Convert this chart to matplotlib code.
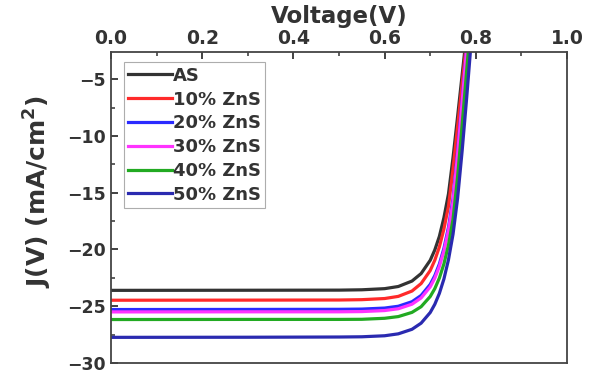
import matplotlib.pyplot as plt
from matplotlib.ticker import MultipleLocator

# J-V curves (V in volts, J in mA/cm^2)
voltage = [0.0, 0.3, 0.5, 0.55, 0.6, 0.63, 0.66, 0.68, 0.70, 0.71,
           0.72, 0.73, 0.74, 0.75, 0.76, 0.77, 0.78, 0.79]

j_as = [-23.60, -23.59, -23.58, -23.55, -23.45, -23.26, -22.78, -22.12, -20.95,
        -20.04, -18.85, -17.20, -15.10, -11.90, -8.30, -4.60, -0.90, 2.80]
j_10 = [-24.47, -24.46, -24.45, -24.42, -24.32, -24.13, -23.66, -23.00, -21.85,
        -20.95, -19.78, -18.20, -16.20, -12.90, -9.20, -5.40, -1.60, 2.20]
j_20 = [-25.29, -25.28, -25.27, -25.25, -25.16, -25.00, -24.60, -24.05, -23.07,
        -22.30, -21.28, -19.90, -18.05, -15.50, -11.30, -6.80, -2.20, 2.30]
j_30 = [-25.50, -25.49, -25.49, -25.47, -25.38, -25.22, -24.82, -24.27, -23.29,
        -22.53, -21.50, -20.14, -18.30, -15.80, -11.60, -7.00, -2.30, 2.20]
j_40 = [-26.17, -26.16, -26.16, -26.15, -26.06, -25.91, -25.54, -25.04, -24.14,
        -23.45, -22.52, -21.27, -19.60, -17.33, -13.60, -9.00, -4.20, 0.60]
j_50 = [-27.74, -27.73, -27.71, -27.69, -27.60, -27.43, -27.03, -26.49, -25.55,
        -24.83, -23.87, -22.60, -20.90, -18.65, -15.50, -11.30, -6.60, -1.60]

labels = ['AS', '10% ZnS', '20% ZnS', '30% ZnS', '40% ZnS', '50% ZnS']
colors = ['#333333', '#ff2a2a', '#2a2aff', '#ff33ff', '#22aa22', '#2a2ab0']
series = [j_as, j_10, j_20, j_30, j_40, j_50]

plt.rcParams['font.family'] = ['DejaVu Sans']
plt.rcParams['font.weight'] = 'bold'
plt.rcParams['mathtext.default'] = 'bf'

fig = plt.figure(figsize=(5.95, 3.74), dpi=100)
ax = fig.add_axes([0.1866, 0.0294, 0.7664, 0.8316])

for j, lab, c in zip(series, labels, colors):
    ax.plot(voltage, j, color=c, lw=2.3, label=lab)

ax.set_xlim(0, 1.0)
ax.set_ylim(-30, -2.6)

ax.xaxis.set_major_locator(MultipleLocator(0.2))
ax.xaxis.set_minor_locator(MultipleLocator(0.1))
ax.yaxis.set_major_locator(MultipleLocator(5))
ax.yaxis.set_minor_locator(MultipleLocator(2.5))
ax.xaxis.set_major_formatter(plt.FuncFormatter(lambda v, p: f'{v:.1f}'))

ax.tick_params(axis='x', which='both', direction='in', top=True, bottom=False,
               labeltop=True, labelbottom=False)
ax.tick_params(axis='y', which='both', direction='in', left=True, right=False)
ax.tick_params(which='major', length=5, width=1.3, color='#333333')
ax.tick_params(which='minor', length=3, width=1.1, color='#333333')
ax.tick_params(axis='x', labelsize=13.5, pad=3)
ax.tick_params(axis='y', labelsize=12.5, pad=4)
for lbl in ax.get_xticklabels() + ax.get_yticklabels():
    lbl.set_fontweight('bold')
    lbl.set_color('#333333')

for s in ax.spines.values():
    s.set_linewidth(1.3)
    s.set_color('#444444')

ax.xaxis.set_label_position('top')
ax.set_xlabel('Voltage(V)', fontsize=16.5, fontweight='bold', color='#333333', labelpad=4)
ax.set_ylabel('J(V) (mA/cm$^{2}$)', fontsize=18, fontweight='bold', color='#333333')
ax.yaxis.set_label_coords(-0.125, 0.55)

leg = ax.legend(loc='upper left', bbox_to_anchor=(0.028, 0.967),
                prop={'weight': 'bold', 'size': 13}, frameon=True, fancybox=False,
                handlelength=2.4, handletextpad=0.05, labelspacing=0.32,
                borderpad=0.25, borderaxespad=0.0)
leg.get_frame().set_edgecolor('#999999')
leg.get_frame().set_linewidth(0.8)
for t in leg.get_texts():
    t.set_color('#333333')

plt.savefig('out.png', dpi=100)
